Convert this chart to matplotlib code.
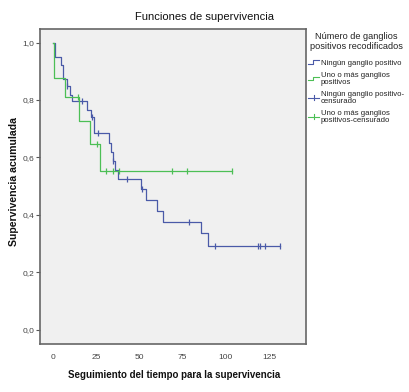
import matplotlib
matplotlib.use("Agg")
import matplotlib.pyplot as plt
from matplotlib.lines import Line2D
from matplotlib.legend_handler import HandlerBase
from matplotlib.ticker import FuncFormatter

# ---- data ----
blue_times = [0, 0.8, 4.5, 5.8, 7.7, 9.7, 10.7, 19.5, 21.8, 23.7, 32.3, 33.3, 34.4, 35.8, 37.7, 51.0, 53.6, 59.9, 63.8, 85.4, 89.5]
blue_surv = [1.0, 0.948, 0.922, 0.872, 0.847, 0.818, 0.797, 0.766, 0.740, 0.684, 0.649, 0.620, 0.588, 0.556, 0.524, 0.489, 0.452, 0.414, 0.376, 0.336, 0.292]
blue_end = 131.4
blue_cens_t = [7.8, 16.6, 22.3, 26.1, 34.8, 42.7, 51.2, 78.6, 93.7, 118.5, 119.8, 122.7, 131.4]

green_times = [0, 0.5, 6.8, 14.7, 21.1, 26.8]
green_surv = [1.0, 0.876, 0.812, 0.728, 0.646, 0.554]
green_end = 103.8
green_cens_t = [14.3, 25.1, 30.6, 34.8, 38.1, 68.6, 77.7, 103.8]

x_ticks = [0, 25, 50, 75, 100, 125]
y_ticks = [0.0, 0.2, 0.4, 0.6, 0.8, 1.0]

title = "Funciones de supervivencia"
xlabel = "Seguimiento del tiempo para la supervivencia"
ylabel = "Supervivencia acumulada"
legend_title = "Número de ganglios\npositivos recodificados"
legend_labels = ["Ningún ganglio positivo", "Uno o más ganglios\npositivos",
                 "Ningún ganglio positivo-\ncensurado", "Uno o más ganglios\npositivos-censurado"]

BLUE = "#4a5aa8"
GREEN = "#4cbf55"

plt.rcParams['font.family'] = ["Liberation Sans", 'DejaVu Sans']


def surv_at(times, surv, t):
    s = surv[0]
    for ti, si in zip(times, surv):
        if ti <= t:
            s = si
    return s


fig = plt.figure(figsize=(4.10, 3.92), dpi=100)
ax = fig.add_axes([40 / 410, 1 - 344 / 392, 266 / 410, (344 - 28.5) / 392])
ax.set_facecolor("#f0f0f0")

ax.step(blue_times + [blue_end], blue_surv + [blue_surv[-1]], where="post", color=BLUE, lw=0.9)
ax.step(green_times + [green_end], green_surv + [green_surv[-1]], where="post", color=GREEN, lw=0.9)
ax.plot(blue_cens_t, [surv_at(blue_times, blue_surv, t) for t in blue_cens_t], ls="none",
        marker="|", ms=4.5, mew=0.9, color=BLUE)
ax.plot(green_cens_t, [surv_at(green_times, green_surv, t) for t in green_cens_t], ls="none",
        marker="|", ms=4.5, mew=0.9, color=GREEN)

ax.set_xlim(-7.7, 146.5)
ax.set_ylim(-0.050, 1.049)
ax.set_xticks(x_ticks)
ax.set_yticks(y_ticks)
ax.yaxis.set_major_formatter(FuncFormatter(lambda v, p: f"{v:.1f}".replace(".", ",")))
ax.tick_params(axis="x", length=0, pad=7, labelsize=6, labelcolor="#444444")
ax.tick_params(axis="y", length=3, width=0.8, color="#555555", pad=1, labelsize=6, labelcolor="#444444")
for s in ax.spines.values():
    s.set_color("#666666")
    s.set_linewidth(1.2)

fig.text(205 / 410, 1 - 16.7 / 392, title, ha="center", va="center", fontsize=8, color="#111111")
fig.text(174 / 410, 1 - 375 / 392, xlabel, ha="center", va="center", fontsize=7, fontweight="bold", color="#111111")
fig.text(14 / 410, 1 - 181 / 392, ylabel, ha="center", va="center", rotation=90, fontsize=7.6, fontweight="bold", color="#111111")
fig.text(356 / 410, 1 - 41.7 / 392, legend_title, ha="center", va="center", fontsize=6.6,
         linespacing=1.15, color="#222222")


class StepHandler(HandlerBase):
    def create_artists(self, legend, orig_handle, xdescent, ydescent, width, height, fontsize, trans):
        x0, x1 = -xdescent, -xdescent + width
        ym = height / 2 - ydescent
        xs = [x0, x0 + width * 0.45, x0 + width * 0.45, x1]
        ys = [ym - height * 0.3, ym - height * 0.3, ym + height * 0.3, ym + height * 0.3]
        l = Line2D(xs, ys, color=orig_handle.get_color(), lw=0.8, transform=trans)
        return [l]


class CrossHandler(HandlerBase):
    def create_artists(self, legend, orig_handle, xdescent, ydescent, width, height, fontsize, trans):
        x0, x1 = -xdescent, -xdescent + width
        ym = height / 2 - ydescent
        xm = (x0 + x1) / 2
        l1 = Line2D([x0, x1], [ym, ym], color=orig_handle.get_color(), lw=0.8, transform=trans)
        l2 = Line2D([xm, xm], [ym - height * 0.5, ym + height * 0.5], color=orig_handle.get_color(), lw=0.8, transform=trans)
        return [l1, l2]


h1 = Line2D([], [], color=BLUE)
h2 = Line2D([], [], color=GREEN)
h3 = Line2D([], [], color=BLUE)
h4 = Line2D([], [], color=GREEN)
leg = fig.legend([h1, h2, h3, h4], legend_labels,
                 handler_map={h1: StepHandler(), h2: StepHandler(), h3: CrossHandler(), h4: CrossHandler()},
                 loc="upper left", bbox_to_anchor=(306 / 410, 1 - 57 / 392), frameon=False,
                 fontsize=5.6, handlelength=1.4, handletextpad=0.2,
                 labelspacing=0.65, borderaxespad=0, borderpad=0.3)
for t in leg.get_texts():
    t.set_color("#222222")
    t.set_linespacing(1.0)

fig.savefig("out.png", dpi=100)
